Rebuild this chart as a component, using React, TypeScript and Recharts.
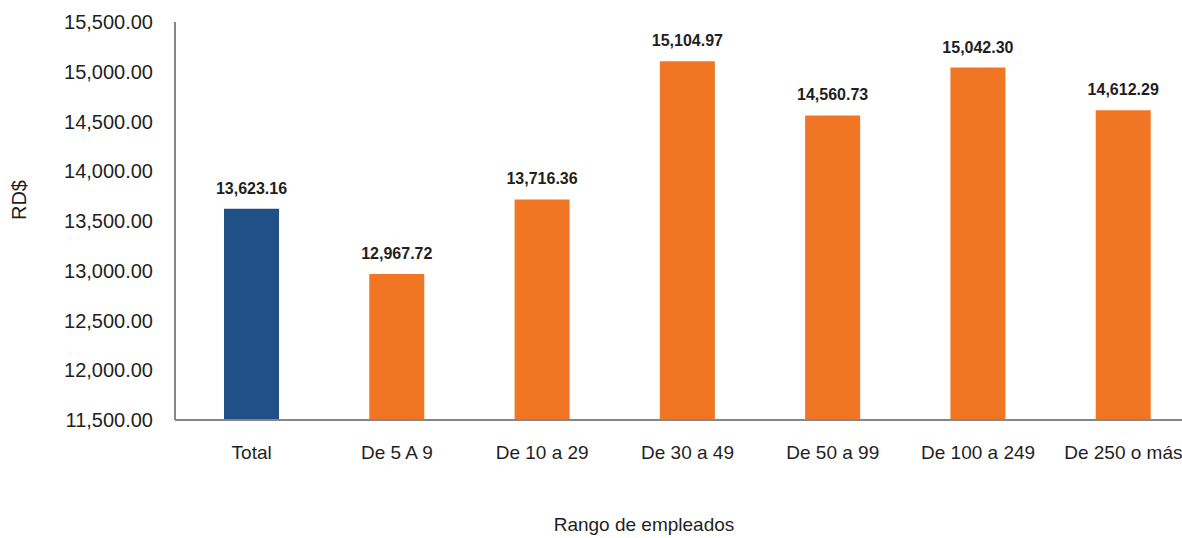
import { BarChart, Bar, XAxis, YAxis, Cell, LabelList, Label } from 'recharts';

const categories = ['Total', 'De 5 A 9', 'De 10 a 29', 'De 30 a 49', 'De 50 a 99', 'De 100 a 249', 'De 250 o más'];
const salaries = [13623.16, 12967.72, 13716.36, 15104.97, 14560.73, 15042.3, 14612.29];
const yTicks = [11500, 12000, 12500, 13000, 13500, 14000, 14500, 15000, 15500];

const data = categories.map((c, i) => ({ rango: c, valor: salaries[i] }));

const BLUE = '#215086';
const ORANGE = '#F07623';
const AXIS = '#868686';
const TEXT = '#1f1f1f';
const FONT = '"Liberation Sans", Arial, sans-serif';

const fmt = (v: number) => v.toLocaleString('en-US', { minimumFractionDigits: 2, maximumFractionDigits: 2 });

export default function App() {
  return (
    <div style={{ position: 'absolute', left: 0, top: 0, width: 1182, height: 538, overflow: 'hidden', background: '#fff' }}>
      <BarChart width={1200} height={538} data={data} margin={{ top: 22, right: 4, left: 0, bottom: 0 }} style={{ fontFamily: FONT }}>
        <XAxis
          dataKey="rango"
          height={118}
          interval={0}
          tickSize={0}
          tickMargin={26}
          padding={{ left: 4, right: 0 }}
          axisLine={{ stroke: AXIS, strokeWidth: 2 }}
          tickLine={false}
          tick={{ fill: TEXT, fontSize: 19 }}
        >
          <Label
            content={(p: any) => {
              const vb = p.viewBox;
              return (
                <text x={644} y={vb.y + vb.height - 7} textAnchor="middle" fill={TEXT} fontSize={19} fontFamily={FONT}>
                  Rango de empleados
                </text>
              );
            }}
          />
        </XAxis>
        <YAxis
          width={175}
          domain={[11500, 15500]}
          ticks={yTicks}
          tickFormatter={fmt}
          tickSize={0}
          tickMargin={22}
          axisLine={{ stroke: AXIS, strokeWidth: 2 }}
          tickLine={false}
          tick={{ fill: TEXT, fontSize: 20 }}
        >
          <Label
            content={(p: any) => {
              const vb = p.viewBox;
              const cy = vb.y + vb.height / 2 - 21;
              return (
                <text x={26} y={cy} transform={`rotate(-90 26 ${cy})`} textAnchor="middle" fill={TEXT} fontSize={20} fontFamily={FONT}>
                  RD$
                </text>
              );
            }}
          />
        </YAxis>
        <Bar dataKey="valor" barSize={55} isAnimationActive={false}>
          {data.map((d, i) => (
            <Cell key={d.rango} fill={i === 0 ? BLUE : ORANGE} />
          ))}
          <LabelList dataKey="valor" position="top" offset={15} formatter={(v: any) => fmt(Number(v))} fill={TEXT} fontSize={16} fontWeight="bold" />
        </Bar>
      </BarChart>
    </div>
  );
}
